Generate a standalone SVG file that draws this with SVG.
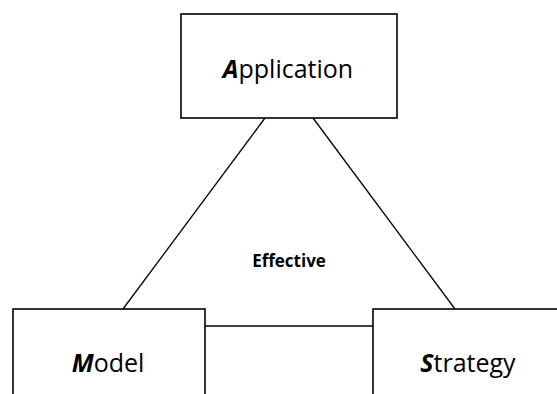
<svg xmlns="http://www.w3.org/2000/svg" width="557" height="394" viewBox="0 0 557 394">
  <style>
    .box { fill: #fff; stroke: #000; stroke-width: 1.6; }
    .edge { stroke: #000; stroke-width: 1.3; fill: none; }
    .label { font-family: "Open Sans", "Liberation Sans", sans-serif; font-size: 25px; fill: #000; text-anchor: middle; }
    .initial { font-weight: bold; font-style: italic; }
    .center { font-family: "Open Sans", "Liberation Sans", sans-serif; font-size: 17px; font-weight: bold; fill: #000; text-anchor: middle; }
  </style>
  <rect width="557" height="394" fill="#fff"/>
  <g id="connectors">
    <line class="edge" x1="265" y1="118" x2="123" y2="309"/>
    <line class="edge" x1="313" y1="118" x2="455" y2="309"/>
    <line class="edge" x1="205" y1="326" x2="373" y2="326"/>
  </g>
  <g id="application">
    <rect class="box" x="181" y="14" width="216" height="104"/>
    <text class="label" x="288" y="78"><tspan class="initial">A</tspan>pplication</text>
  </g>
  <g id="model">
    <rect class="box" x="13" y="309" width="192" height="100"/>
    <text class="label" x="108" y="372"><tspan class="initial">M</tspan>odel</text>
  </g>
  <g id="strategy">
    <rect class="box" x="373" y="309" width="200" height="100"/>
    <text class="label" x="468" y="372"><tspan class="initial">S</tspan>trategy</text>
  </g>
  <g id="effective">
    <text class="center" x="289" y="267">Effective</text>
  </g>
</svg>
